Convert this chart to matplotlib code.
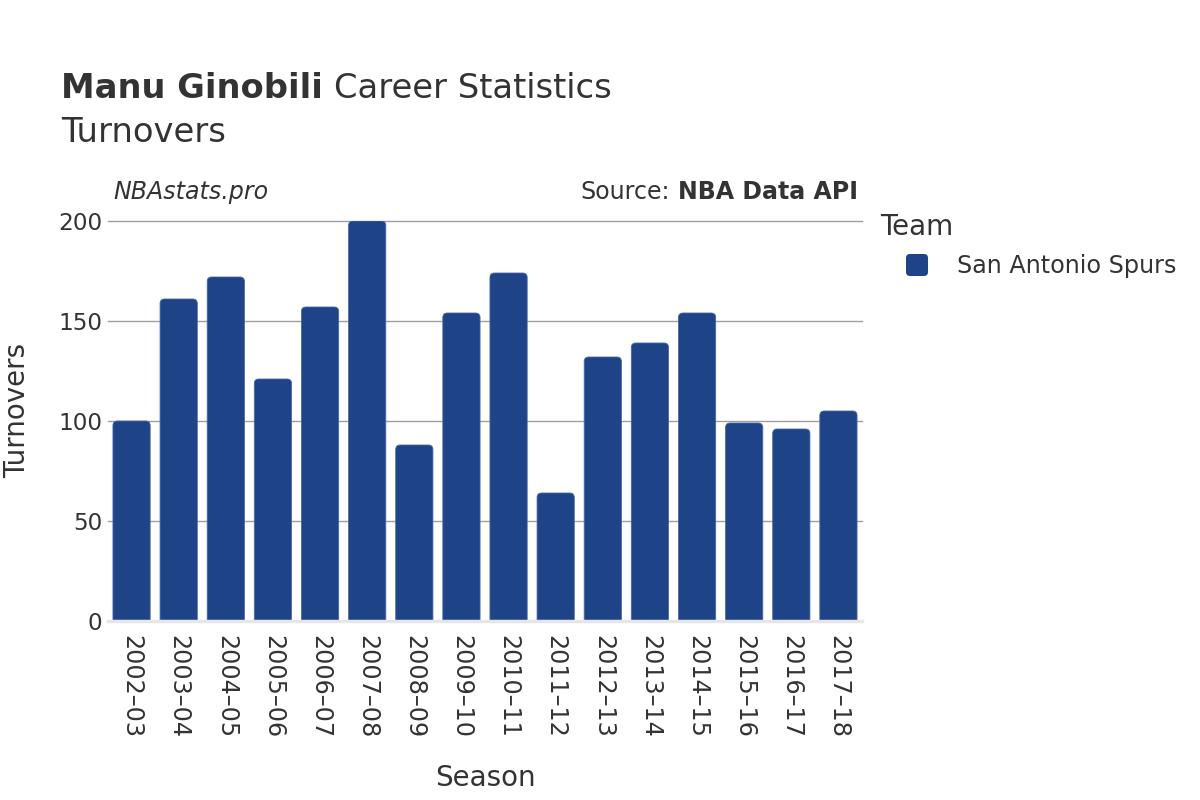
import matplotlib
matplotlib.use("Agg")
import matplotlib.pyplot as plt
from matplotlib.patches import FancyBboxPatch
import numpy as np

seasons = ["2002–03", "2003–04", "2004–05", "2005–06", "2006–07", "2007–08",
           "2008–09", "2009–10", "2010–11", "2011–12", "2012–13", "2013–14",
           "2014–15", "2015–16", "2016–17", "2017–18"]
turnovers = [100, 161, 172, 121, 157, 200, 88, 154, 174, 64, 132, 139, 154, 99, 96, 105]
team = "San Antonio Spurs"
yticks = [0, 50, 100, 150, 200]

BAR = "#1e4387"
TXT = "#333333"
W, H = 1200, 800

plt.rcParams['font.family'] = ['DejaVu Sans']
fig = plt.figure(figsize=(12, 8), dpi=100)

def px(x, y):
    return x / W, 1 - y / H

left, right, top, bottom = 108, 862, 221, 621
ax = fig.add_axes([left / W, 1 - bottom / H, (right - left) / W, (bottom - top) / H])
ax.set_xlim(-0.5, len(seasons) - 0.5)
ax.set_ylim(0, 200)
for s in ax.spines.values():
    s.set_visible(False)

for t in yticks[1:]:
    ax.axhline(t, color="#a0a0a0", lw=1.0, zorder=0, clip_on=False)
ax.axhline(0, color="#e6e6e6", lw=2.5, zorder=3, clip_on=False)

bw = 0.79
xunit = (right - left) / len(seasons)
yunit = (bottom - top) / 200
r_px = 4.5
rx = r_px / xunit
asp = (r_px / yunit) / rx
bars = ax.bar(range(len(seasons)), turnovers, width=bw, color=BAR, alpha=0)
for b in bars:
    x0, w, h = b.get_x(), b.get_width(), b.get_height()
    p = FancyBboxPatch((x0 + rx, -10), w - 2 * rx, h + 10 - r_px / yunit,
                       boxstyle=f"round,pad={rx},rounding_size={rx}",
                       mutation_aspect=asp, facecolor=BAR, edgecolor="#4a68a6",
                       lw=0.6, zorder=2)
    ax.add_patch(p)

ax.set_yticks(yticks)
ax.set_yticklabels([str(t) for t in yticks], fontsize=16.7, color=TXT)
ax.set_xticks(range(len(seasons)))
ax.set_xticklabels(seasons, rotation=-90, fontsize=17.2, color=TXT)
ax.tick_params(axis='both', length=0)
ax.tick_params(axis='y', pad=4)
ax.tick_params(axis='x', pad=10)

fig.text(*px(17, 410), "Turnovers", rotation=90, fontsize=20, color=TXT, ha='center', va='center')
fig.text(*px(485, 778), "Season", fontsize=20, color=TXT, ha='center', va='center')

# title
fig.canvas.draw()
r = fig.canvas.get_renderer()
t1 = fig.text(*px(61, 89), "Manu Ginobili", fontsize=24.3, fontweight='bold', color=TXT, va='center')
bb = t1.get_window_extent(r)
fig.text(bb.x1 / W + 11 / W, 1 - 89 / H, "Career Statistics", fontsize=24.3, color=TXT, va='center')
fig.text(*px(61, 132), "Turnovers", fontsize=24.3, color=TXT, va='center')

fig.text(*px(113, 192), "NBAstats.pro", fontsize=17.1, style='italic', color=TXT, va='center')
t2 = fig.text(*px(858, 192), "NBA Data API", fontsize=17.1, fontweight='bold', color=TXT, va='center', ha='right')
bb2 = t2.get_window_extent(r)
fig.text(bb2.x0 / W - 8 / W, 1 - 192 / H, "Source:", fontsize=17.1, color=TXT, va='center', ha='right')

# legend
fig.text(*px(880, 227), "Team", fontsize=20, color=TXT, va='center')
fig.patches.append(FancyBboxPatch((906 / W + 3 / W, 1 - 276 / H + 3 / H), 16 / W, 16 / H,
                                  boxstyle=f"round,pad={3/W},rounding_size={4/W}",
                                  mutation_aspect=W / H,
                                  transform=fig.transFigure, facecolor=BAR, edgecolor=BAR, lw=0))
fig.text(*px(957, 266), team, fontsize=17.2, color=TXT, va='center')

fig.savefig("out.png", dpi=100, facecolor="white")
